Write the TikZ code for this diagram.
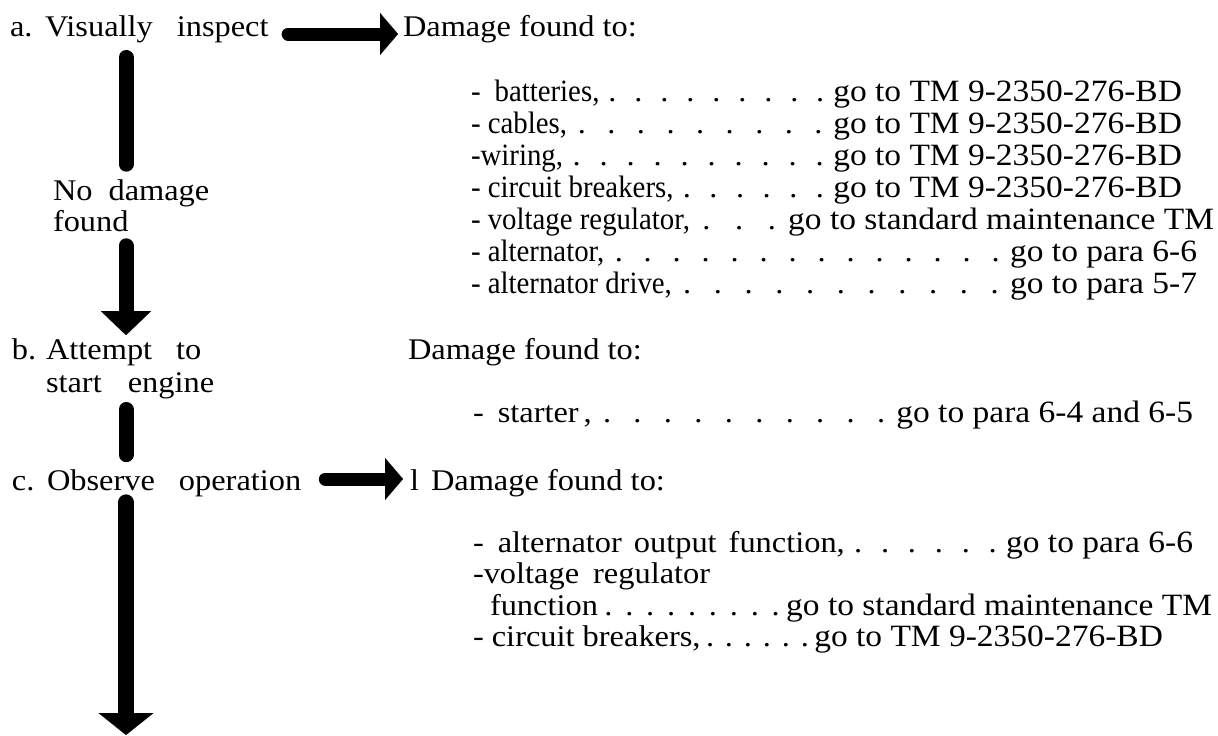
\documentclass[tikz,border=0pt]{standalone}
\usepackage{fontspec}
\setmainfont{Liberation Serif}[FakeStretch=1.08]
\newfontfamily\itemfam{Liberation Serif}[FakeStretch=0.93]
\usetikzlibrary{arrows.meta,calc}
\newcommand\fL{\fontsize{30}{32}\selectfont}
\newcommand\fI{\itemfam\fontsize{31}{32}\selectfont}
\newcommand\fG{\fontsize{31}{32}\selectfont}
\tikzset{
  txt/.style={anchor=base west, inner sep=0pt, outer sep=0pt, font=\fL},
  itm/.style={txt, font=\fI},
  gto/.style={anchor=base east, inner sep=0pt, outer sep=0pt, font=\fG},
  dotn/.style={anchor=base, inner sep=0pt, outer sep=0pt, font=\fL},
  bar/.style={line width=15pt, line cap=round, draw=black},
  harrow/.style={draw=black, line width=13pt, line cap=round, -{Triangle[width=42pt,length=18pt,line width=0.1pt]}},
  varrowA/.style={bar, -{Triangle[width=50pt,length=24pt,line width=0.1pt]}},
  varrowB/.style={bar, line width=16pt, -{Triangle[width=55pt,length=22pt,line width=0.1pt]}},
}
% name, y, x, item style, item, dots, right x, target
\newcommand\lrow[8]{%
  \node[#4] (#1i) at (#3,#2) {#5};
  \node[gto] (#1g) at (#7,#2) {#8};
  \foreach \i in {1,...,#6}{\node[dotn] at ($(#1i.base east)!{(\i-0.5)/#6}!(#1g.base west)$) {.};}
}
\begin{document}
\begin{tikzpicture}[x=1pt,y=-1pt]
\fill[white] (0,0) rectangle (1218,736);
\useasboundingbox (0,0) rectangle (1218,736);

% left column
\node[txt] (alab) at (10,36) {a.};
\node[txt] (avis) at (45,36) {Visually\hspace{24pt}inspect};
\node[txt] (nd) at (53,200) {No\hspace{16pt}damage};
\node[txt] (ndf) at (53,231) {found};
\node[txt] (blab) at (12,359) {b.};
\node[txt] (batt) at (46,359) {Attempt\hspace{24pt}to};
\node[txt] (bse) at (46,392) {start\hspace{26pt}engine};
\node[txt] (clab) at (12,490) {c.};
\node[txt] (cobs) at (47,490) {Observe\hspace{24pt}operation};

% headers
\node[txt] (adam) at (403,36) {Damage found to:};
\node[txt] (bdam) at (408,359) {Damage found to:};
\node[txt] (cdam) at (410,490) {l\hspace{12pt}Damage found to:};

% list a
\lrow{r1}{101}{471}{itm}{-\hspace{14pt}batteries,}{9}{1182}{go to TM 9-2350-276-BD}
\lrow{r2}{133}{471}{itm}{- cables,}{9}{1182}{go to TM 9-2350-276-BD}
\lrow{r3}{165}{471}{itm}{-wiring,}{10}{1182}{go to TM 9-2350-276-BD}
\lrow{r4}{197}{471}{itm}{- circuit breakers,}{6}{1182}{go to TM 9-2350-276-BD}
\lrow{r5}{229}{471}{itm}{- voltage regulator,}{3}{1214}{go to standard maintenance TM}
\lrow{r6}{261}{471}{itm}{- alternator,}{14}{1197}{go to para 6-6}
\lrow{r7}{293}{471}{itm}{- alternator drive,}{11}{1197}{go to para 5-7}
% list b
\lrow{r8}{422}{473}{txt}{-\hspace{14pt}starter\,,}{10}{1193}{go to para 6-4 and 6-5}
% list c
\lrow{r9}{552}{473}{txt}{-\hspace{14pt}alternator\hspace{12pt}output\hspace{12pt}function,}{6}{1193}{go to para 6-6}
\node[txt] (r10i) at (473,583) {-voltage\hspace{14pt}regulator};
\lrow{r11}{615}{490}{txt}{function}{9}{1212}{go to standard maintenance TM}
\lrow{r12}{646}{473}{txt}{- circuit breakers,}{6}{1163}{go to TM 9-2350-276-BD}

% connectors
\coordinate (spine) at (126,0);
\coordinate (cend) at (126,735);
\draw[harrow, shorten >=5pt] ([xshift=19.5pt,yshift=2pt]avis.base east) -- ([yshift=2pt]adam.base west);
\draw[harrow, shorten >=7pt] ([xshift=24pt,yshift=11pt]cobs.base east) -- ([yshift=11pt]cdam.base west);
\draw[bar, shorten <=15pt, shorten >=15pt] (spine |- avis.south) -- (spine |- nd.north);
\draw[varrowA, shorten <=14.5pt, shorten >=4pt] (spine |- ndf.south) -- (spine |- batt.north);
\draw[bar, shorten <=11pt, shorten >=14.5pt] (spine |- bse.south) -- (spine |- cobs.north);
\draw[varrowB, shorten <=6pt] (spine |- cobs.south) -- (cend);
\end{tikzpicture}
\end{document}
